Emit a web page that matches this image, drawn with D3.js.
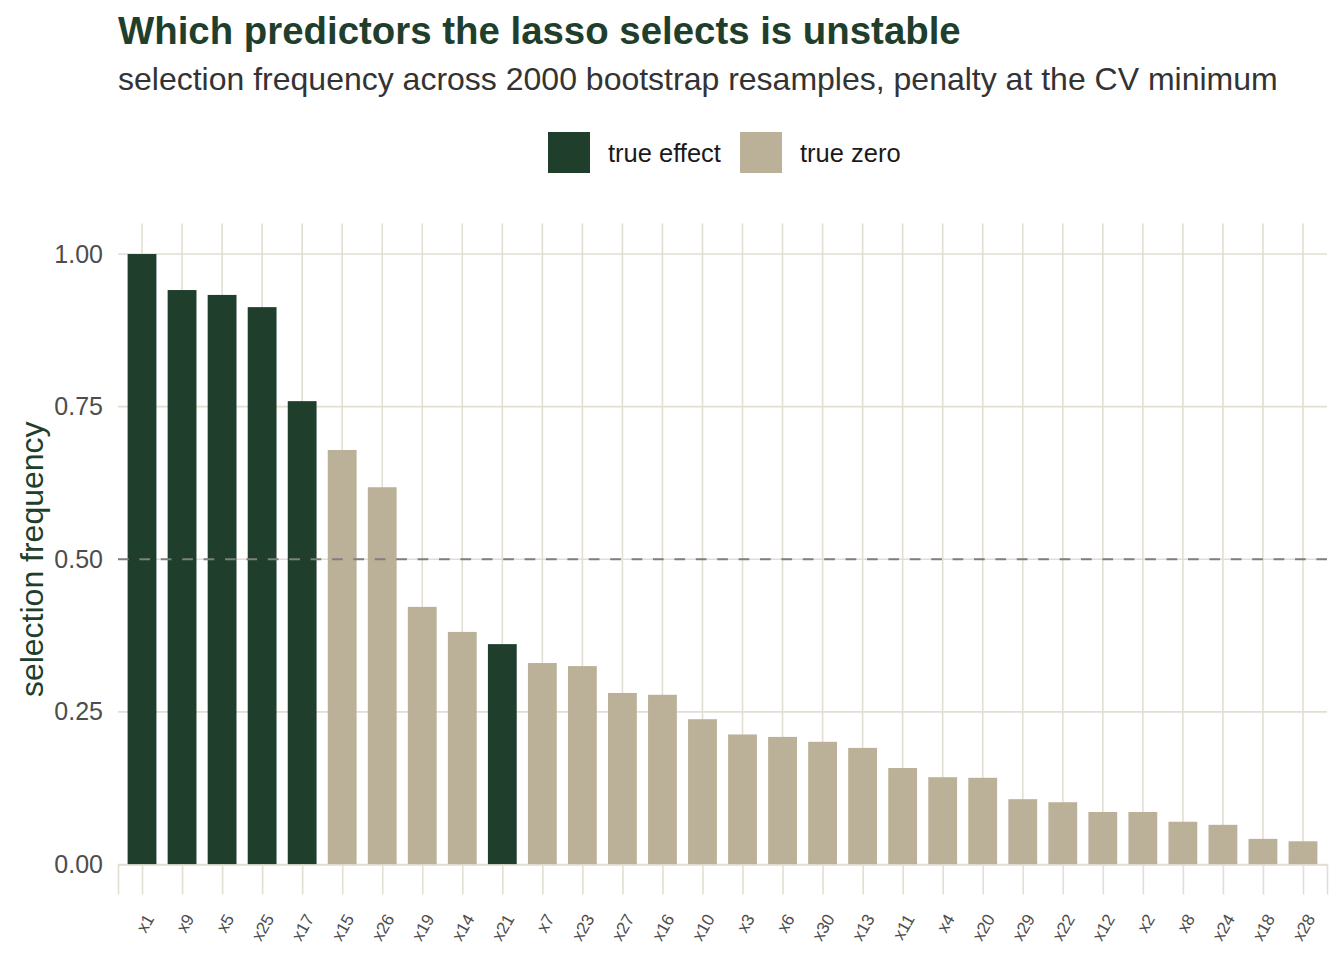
<!DOCTYPE html>
<html>
<head>
<meta charset="utf-8">
<script src="https://cdn.jsdelivr.net/npm/d3@7"></script>
<style>
  body { margin: 0; background: #ffffff; }
  svg { font-family: "Liberation Sans", Arial, Helvetica, sans-serif; display: block; }
</style>
</head>
<body>
<svg width="1344" height="960"></svg>
<script>
// predictors in the order they are plotted (sorted by selection frequency)
var predictors = ["x1", "x9", "x5", "x25", "x17", "x15", "x26", "x19", "x14", "x21",
    "x7", "x23", "x27", "x16", "x10", "x3", "x6", "x30", "x13", "x11",
    "x4", "x20", "x29", "x22", "x12", "x2", "x8", "x24", "x18", "x28"];
var frequency = [1.000, 0.941, 0.933, 0.913, 0.759, 0.679, 0.618, 0.422, 0.381, 0.361,
    0.330, 0.325, 0.281, 0.278, 0.238, 0.213, 0.209, 0.201, 0.191, 0.158,
    0.143, 0.142, 0.107, 0.102, 0.086, 0.086, 0.070, 0.065, 0.042, 0.038];
var trueEffect = ["x1", "x9", "x5", "x25", "x17", "x21"];
var legendLabels = ["true effect", "true zero"];
var yTicks = [0, 0.25, 0.5, 0.75, 1];

var dark = "#1f3f2c", tan = "#bbb098", grid = "#e3ded2";

var margin = { top: 223.5, right: 17, bottom: 95.5, left: 118 },
    W = 1344, H = 960,
    w = W - margin.left - margin.right,
    h = H - margin.top - margin.bottom;

var data = predictors.map(function(p, i) {
    return { name: p, value: frequency[i], effect: trueEffect.indexOf(p) >= 0 };
});

var svg = d3.select("svg");
var g = svg.append("g")
    .attr("transform", "translate(" + margin.left + "," + margin.top + ")");

var x = d3.scalePoint()
    .domain(predictors)
    .range([0, w])
    .padding(0.6);
var barW = x.step() * 0.72;

var y = d3.scaleLinear()
    .domain([0, 1.05])
    .range([h, 0]);

// grid
g.selectAll("line.hgrid")
    .data(yTicks)
    .enter().append("line")
    .attr("class", "hgrid")
    .attr("x1", 0).attr("x2", w)
    .attr("y1", function(d) { return y(d); })
    .attr("y2", function(d) { return y(d); })
    .attr("stroke", grid).attr("stroke-width", 1.6);

g.selectAll("line.vgrid")
    .data(predictors)
    .enter().append("line")
    .attr("class", "vgrid")
    .attr("x1", function(d) { return x(d); })
    .attr("x2", function(d) { return x(d); })
    .attr("y1", 0).attr("y2", h)
    .attr("stroke", grid).attr("stroke-width", 1.6);

// bars
g.selectAll("rect.bar")
    .data(data)
    .enter().append("rect")
    .attr("class", "bar")
    .attr("x", function(d) { return x(d.name) - barW / 2; })
    .attr("width", barW)
    .attr("y", function(d) { return y(d.value); })
    .attr("height", function(d) { return h - y(d.value); })
    .attr("fill", function(d) { return d.effect ? dark : tan; });

// reference line at 0.5
g.append("line")
    .attr("x1", 0).attr("x2", w)
    .attr("y1", y(0.5)).attr("y2", y(0.5))
    .attr("stroke", "#7f7f7f")
    .attr("stroke-width", 2.2)
    .attr("stroke-dasharray", "10.7,10.7");

// x axis
var xAxis = g.append("g")
    .attr("transform", "translate(0," + h + ")")
    .call(d3.axisBottom(x).tickSize(30).tickPadding(0));
xAxis.select(".domain").attr("stroke", grid).attr("stroke-width", 1.6);
xAxis.selectAll(".tick line").attr("stroke", grid).attr("stroke-width", 1.6);
xAxis.selectAll(".tick text")
    .attr("fill", "#4d4d4d")
    .style("font-size", "17px")
    .attr("text-anchor", "end")
    .attr("dy", "0.35em")
    .attr("y", 0)
    .attr("transform", "translate(7,51) rotate(-60)");

// y axis
var yAxis = g.append("g")
    .call(d3.axisLeft(y).tickValues(yTicks).tickFormat(d3.format(".2f")).tickSize(0).tickPadding(15));
yAxis.select(".domain").remove();
yAxis.selectAll(".tick text")
    .attr("fill", "#4d4d4d")
    .style("font-size", "25px");

// y axis title
svg.append("text")
    .attr("transform", "translate(43," + (margin.top + y(0.5)) + ") rotate(-90)")
    .attr("text-anchor", "middle")
    .attr("fill", dark)
    .style("font-size", "32px")
    .text("selection frequency");

// titles
svg.append("text")
    .attr("x", 118).attr("y", 44)
    .attr("fill", dark)
    .style("font-size", "38.4px")
    .style("font-weight", "bold")
    .text("Which predictors the lasso selects is unstable");

svg.append("text")
    .attr("x", 118).attr("y", 90)
    .attr("fill", "#333333")
    .style("font-size", "32px")
    .text("selection frequency across 2000 bootstrap resamples, penalty at the CV minimum");

// legend
var legendColors = [dark, tan];
var legendX = [548, 740];
var legend = svg.selectAll(".legend")
    .data(legendLabels)
    .enter().append("g")
    .attr("class", "legend")
    .attr("transform", function(d, i) { return "translate(" + legendX[i] + ",132)"; });

legend.append("rect")
    .attr("width", 42)
    .attr("height", 41)
    .attr("fill", function(d, i) { return legendColors[i]; });

legend.append("text")
    .attr("x", 60)
    .attr("y", 21.5)
    .attr("dy", "0.35em")
    .attr("fill", "#1a1a1a")
    .style("font-size", "25.5px")
    .text(function(d) { return d; });
</script>
</body>
</html>
